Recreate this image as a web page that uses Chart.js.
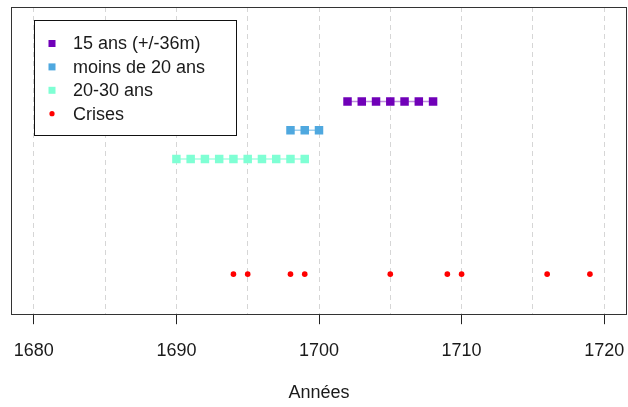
<!DOCTYPE html>
<html>
<head>
<meta charset="utf-8">
<script src="https://cdn.jsdelivr.net/npm/chart.js@4/dist/chart.umd.min.js"></script>
<style>
  html, body { margin: 0; padding: 0; background: #fff; }
  #wrap { width: 628px; height: 407px; }
</style>
</head>
<body>
<div id="wrap"><canvas id="crisesChart"></canvas></div>
<script>
// Years of each group (one point per year)
const years15 = [1702, 1703, 1704, 1705, 1706, 1707, 1708];
const yearsMoins20 = [1698, 1699, 1700];
const years2030 = [1690, 1691, 1692, 1693, 1694, 1695, 1696, 1697, 1698, 1699];
const yearsCrises = [1694, 1695, 1698, 1699, 1705, 1709, 1710, 1716, 1719];

// Vertical level of each series
const level15 = 2.5;
const levelMoins20 = 2.25;
const level2030 = 2;
const levelCrises = 1;

// Labels
const seriesLabels = ['15 ans (+/-36m)', 'moins de 20 ans', '20-30 ans', 'Crises'];
const gridYears = [1680, 1685, 1690, 1695, 1700, 1705, 1710, 1715, 1720];
const axisTitle = 'Années';

const FONT = "'Liberation Sans', Arial, sans-serif";

// turn a list of years into points at a fixed level
const toPoints = (years, level) => years.map(y => ({ x: y, y: level }));

function squareSeries(label, years, level, color, lineColor) {
    return {
        label: label,
        data: toPoints(years, level),
        showLine: true,
        borderColor: lineColor,
        borderWidth: 1.5,
        pointStyle: 'rect',
        pointRadius: 6,
        pointBackgroundColor: color,
        pointBorderWidth: 0,
        backgroundColor: color
    };
}

// box around the plot area
const frame = {
    id: 'frame',
    afterDatasetsDraw(chart) {
        const a = chart.chartArea, c = chart.ctx;
        c.save();
        c.strokeStyle = '#333';
        c.lineWidth = 1;
        c.strokeRect(Math.round(a.left) + 0.5, Math.round(a.top) + 0.5,
                     Math.round(a.right - a.left) - 1, Math.round(a.bottom - a.top));
        c.restore();
    }
};

// legend drawn inside the plot, top left
const boxLegend = {
    id: 'boxLegend',
    afterDraw(chart) {
        const c = chart.ctx;
        c.save();
        c.fillStyle = '#fff';
        c.fillRect(34, 20, 202, 115);
        c.strokeStyle = '#111';
        c.lineWidth = 1;
        c.strokeRect(34.5, 20.5, 202, 115);
        c.font = '18px ' + FONT;
        c.textBaseline = 'middle';
        chart.data.datasets.forEach((ds, i) => {
            const y = 43.5 + i * 23.4;
            c.fillStyle = ds.backgroundColor;
            if (ds.pointStyle === 'rect') {
                c.fillRect(48.5, y - 3.5, 7, 7);
            } else {
                c.beginPath();
                c.arc(52, y, 2.6, 0, Math.PI * 2);
                c.fill();
            }
            c.fillStyle = '#1a1a1a';
            c.fillText(ds.label, 73, y + 1);
        });
        c.restore();
    }
};

const ctx = document.getElementById('crisesChart').getContext('2d');

new Chart(ctx, {
    type: 'scatter',
    data: {
        datasets: [
            squareSeries(seriesLabels[0], years15, level15, '#7000B8', 'rgba(112,0,184,0.45)'),
            squareSeries(seriesLabels[1], yearsMoins20, levelMoins20, '#4FA8DF', 'rgba(79,168,223,0.55)'),
            squareSeries(seriesLabels[2], years2030, level2030, '#7FFFD4', 'rgba(127,255,212,0.7)'),
            {
                label: seriesLabels[3],
                data: toPoints(yearsCrises, levelCrises),
                showLine: false,
                pointStyle: 'circle',
                pointRadius: 2.8,
                pointBorderWidth: 0,
                pointBackgroundColor: '#FF0000',
                backgroundColor: '#FF0000'
            }
        ]
    },
    options: {
        responsive: true,
        maintainAspectRatio: false,
        animation: false,
        layout: { autoPadding: false, padding: { left: 11, right: 1, top: 7, bottom: 0 } },
        plugins: {
            legend: { display: false },
            tooltip: { enabled: false }
        },
        scales: {
            x: {
                type: 'linear',
                min: 1678.4,
                max: 1721.6,
                afterBuildTicks: (scale) => { scale.ticks = gridYears.map(v => ({ value: v })); },
                // no extra room for the end labels, they fit inside
                afterFit: (scale) => { scale.paddingLeft = 0; scale.paddingRight = 0; },
                ticks: {
                    autoSkip: false,
                    maxRotation: 0,
                    padding: 16,
                    color: '#1a1a1a',
                    font: { family: FONT, size: 18 },
                    callback: (v) => (v % 10 === 0 ? String(v) : '')
                },
                grid: {
                    color: '#d6d6d6',
                    lineWidth: 1,
                    tickLength: 10,
                    tickWidth: 1,
                    tickBorderDash: [],
                    tickColor: (c) => (c.tick && c.tick.value % 10 === 0 ? '#222' : 'rgba(0,0,0,0)')
                },
                border: { display: false, dash: [5, 4] },
                title: {
                    display: true,
                    text: axisTitle,
                    color: '#1a1a1a',
                    font: { family: FONT, size: 18 },
                    padding: { top: 4.6, bottom: 3 }
                }
            },
            y: {
                display: false,
                min: 0.652,
                max: 3.322
            }
        }
    },
    plugins: [frame, boxLegend]
});
</script>
</body>
</html>
